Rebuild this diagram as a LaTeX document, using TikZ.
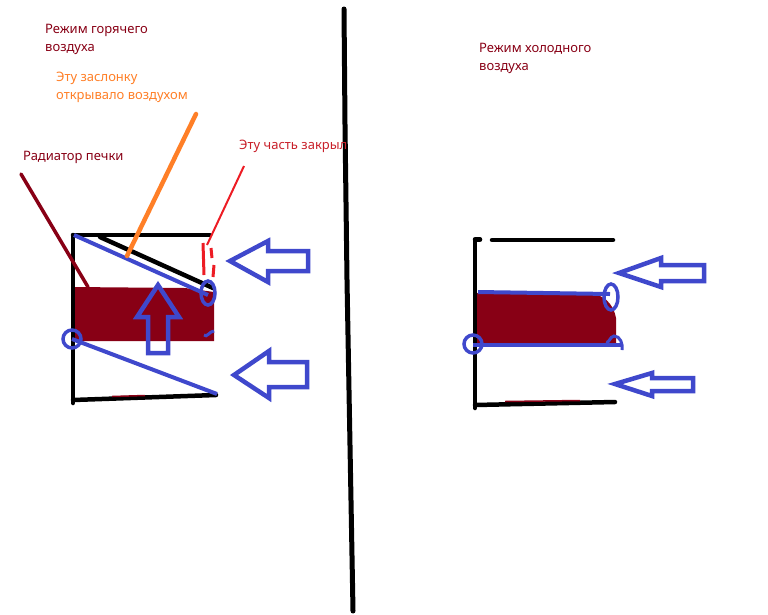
\documentclass[tikz,border=0pt]{standalone}
\usepackage{fontspec}
\setmainfont{Noto Sans}
\usetikzlibrary{arrows.meta,positioning,calc}
\definecolor{mBlue}{HTML}{3F48CC}
\definecolor{mMaroon}{HTML}{880015}
\definecolor{mOrange}{HTML}{FF7F27}
\definecolor{mRed}{HTML}{ED1C24}
\definecolor{mText}{HTML}{C8202A}
\tikzset{
  wall/.style={black,line width=4.5pt,line cap=round},
  flap/.style={mBlue,line width=4pt},
  airflow/.style={mBlue,line width=4.5pt,line join=miter,fill=none},
  caption/.style={anchor=west,align=left,font=\fontsize{13}{18}\selectfont,inner sep=0pt}
}
\begin{document}
\begin{tikzpicture}[x=1pt,y=-1pt]
  \useasboundingbox (0,0) rectangle (768,614);

  % Divider
  \draw[wall,line width=5pt] (344,9) -- (345,125) -- (347,280) -- (353,611);

  % Hot air mode: radiator first, the rest lies on top of it
  \fill[mMaroon] (73,287) -- (185,288) -- (214,292) -- (214,341) -- (73,341) -- cycle;
  \draw[wall] (73,235) -- (73,403);
  \draw[wall] (73,235) -- (210,235);
  \draw[wall] (73,400) -- (216,395);
  \draw[mMaroon,line width=1.5pt] (112,396.5) -- (145,395.5);
  \draw[wall] (100,237) -- (213,288);
  \draw[flap] (74,235) -- (208,295);
  \draw[flap] (72,339) -- (217,394);
  \draw[flap,line width=3.5pt] (72,339) circle (9);
  \draw[flap,line width=3.5pt] (208,293) ellipse (7 and 12);
  \draw[flap,line width=3pt] (204,335) to[out=-50,in=180] (214,331);

  % Hot air mode: leaders
  \draw[mMaroon,line width=3.5pt,line cap=round] (21,174) -- (88,287);
  \draw[mOrange,line width=4.5pt,line cap=round] (196,114) -- (127,256);
  \draw[mRed,line width=2pt] (244,166) -- (207,245);
  \draw[mRed,line width=3pt] (203,243) -- (204,275);
  \draw[mRed,line width=3pt] (211,248) -- (212,258);
  \draw[mRed,line width=3pt] (214,265) -- (213,277);

  % Hot air mode: air arrows
  \draw[airflow] (230,261) -- (268,241) -- (268,251) -- (308,251) -- (308,271) -- (268,271) -- (268,282) -- cycle;
  \draw[airflow] (234,375) -- (269,351) -- (269,362) -- (307,362) -- (307,387) -- (269,387) -- (269,398) -- cycle;
  \draw[airflow] (158,285) -- (137,317) -- (148,317) -- (148,353) -- (168,353) -- (168,317) -- (179,317) -- cycle;

  % Cold air mode
  \fill[mMaroon] (475,293) -- (590,294) to[out=0,in=100] (616,318) -- (616,344) -- (475,344) -- cycle;
  \draw[wall] (475,240) -- (475,408);
  \draw[wall] (475,239.5) -- (480,239.5);
  \draw[wall] (492,240) -- (613,240);
  \draw[wall] (475,405) -- (615,402);
  \draw[mMaroon,line width=1.5pt] (505,401.5) -- (580,400.5);
  \draw[flap] (478,292) -- (610,294);
  \draw[flap] (473,345) -- (621,345);
  \draw[flap,line width=3.5pt] (473,344) circle (9);
  \draw[flap,line width=3.5pt] (611,297) ellipse (7 and 13);
  \draw[flap,line width=3pt] (606,342) to[out=-60,in=180] (614,336) to[out=0,in=80] (622,350);

  % Cold air mode: air arrows
  \draw[airflow] (619,273) -- (661,258) -- (661,265) -- (704,265) -- (704,281) -- (661,281) -- (661,287) -- cycle;
  \draw[airflow] (615,384) -- (652,373) -- (652,378) -- (693,378) -- (693,391) -- (652,391) -- (652,396) -- cycle;

  % Labels
  \node[caption,text=mMaroon] (hotmode) at (45,39) {Режим горячего\\воздуха};
  \node[caption,text=mOrange] (flapnote) at (56,87) {Эту заслонку\\открывало воздухом};
  \node[caption,text=mMaroon] (radnote) at (23,157) {Радиатор печки};
  \node[caption,text=mText] (closednote) at (239,146) {Эту часть закрыл};
  \node[caption,text=mMaroon] (coldmode) at (479,58) {Режим холодного\\воздуха};
\end{tikzpicture}
\end{document}
